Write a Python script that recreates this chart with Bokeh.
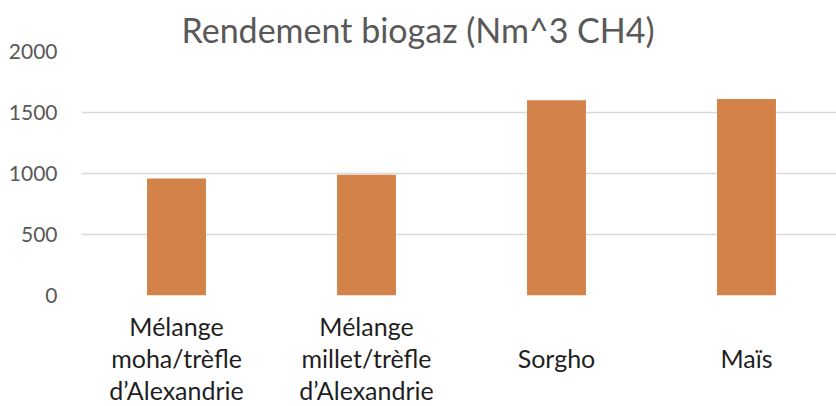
from bokeh.plotting import figure
from bokeh.models import Range1d, FixedTicker, ColumnDataSource
from bokeh.embed import file_html
from bokeh.resources import INLINE

title_text = "Rendement biogaz (Nm^3 CH4)"
categories = ["Mélange\nmoha/trèfle\nd’Alexandrie",
              "Mélange\nmillet/trèfle\nd’Alexandrie",
              "Sorgho",
              "Maïs"]
values = [960, 990, 1600, 1610]
y_ticks = [0, 500, 1000, 1500, 2000]

xpos = [i + 0.5 for i in range(len(categories))]
src = ColumnDataSource(dict(x=xpos, top=values))

# one-line labels sit on the middle line of the three-line block
n_lines = max(c.count("\n") for c in categories) + 1
shown = [c if c.count("\n") else "\n" * ((n_lines - 1) // 2) + c for c in categories]

FONT = "Lato"

p = figure(frame_width=755, frame_height=244,
           min_border_left=81, min_border_right=0,
           min_border_top=51, min_border_bottom=105,
           x_range=Range1d(0, 755 / 190), y_range=Range1d(0, 2000),
           output_backend="svg", toolbar_location=None,
           title=title_text)

p.vbar(x="x", top="top", width=0.31, source=src,
       fill_color="#D3824A", line_color=None)

p.title.text_font = FONT
p.title.text_font_size = "34px"
p.title.text_font_style = "normal"
p.title.text_color = "#595959"
p.title.align = "left"
p.title.offset = 100
p.title.standoff = 4

p.outline_line_color = None
p.background_fill_color = "white"
p.border_fill_color = "white"

p.xgrid.visible = False
p.ygrid.ticker = FixedTicker(ticks=y_ticks)
p.ygrid.grid_line_color = "#D9D9D9"
p.ygrid.grid_line_width = 1.5

p.yaxis.ticker = FixedTicker(ticks=y_ticks)
p.yaxis.axis_line_color = None
p.yaxis.major_tick_line_color = None
p.yaxis.minor_tick_line_color = None
p.yaxis.major_tick_out = 0
p.yaxis.major_label_standoff = 24
p.yaxis.major_label_text_font = FONT
p.yaxis.major_label_text_font_size = "21px"
p.yaxis.major_label_text_color = "#595959"

p.xaxis.ticker = FixedTicker(ticks=xpos)
p.xaxis.major_label_overrides = {x: c for x, c in zip(xpos, shown)}
p.xaxis.axis_line_color = None
p.xaxis.major_tick_line_color = None
p.xaxis.minor_tick_line_color = None
p.xaxis.major_tick_out = 0
p.xaxis.major_label_standoff = 15
p.xaxis.major_label_text_font = FONT
p.xaxis.major_label_text_font_size = "25px"
p.xaxis.major_label_text_color = "#1F1F1F"
p.xaxis.major_label_text_line_height = 1.08

open("out.html", "w").write(file_html(p, INLINE))
